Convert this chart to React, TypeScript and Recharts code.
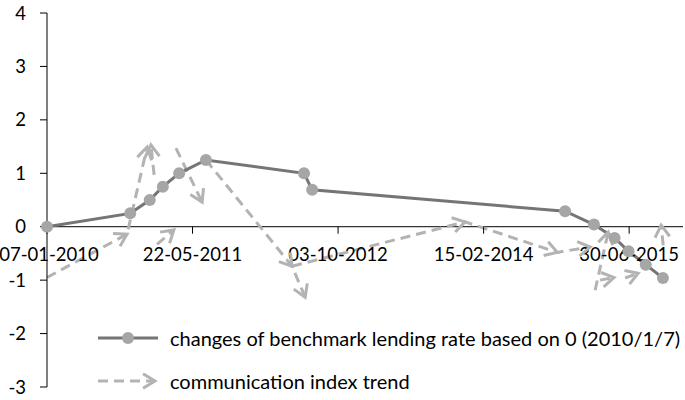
import React from "react";
import { ComposedChart, Line, XAxis, YAxis, ReferenceLine, ReferenceDot, Legend } from "recharts";

const FONT = "Lato, 'Noto Sans', sans-serif";
const RATE_COLOR = "#757575";
const DOT_COLOR = "#a6a6a6";
const TREND_COLOR = "#b3b3b3";

// cumulative change of the benchmark lending rate since 2010-01-07
const rateDates = [
  "2010-01-07", "2010-10-20", "2010-12-26", "2011-02-09", "2011-04-06", "2011-07-07", "2012-06-08",
  "2012-07-06", "2014-11-22", "2015-03-01", "2015-05-11", "2015-06-28", "2015-08-26", "2015-10-24",
];
const rateValues = [0, 0.25, 0.5, 0.75, 1, 1.25, 1, 0.69, 0.29, 0.04, -0.21, -0.46, -0.71, -0.96];

// communication index trend, null = break between arrows
const trendDates = [
  "2010-01-07", "2010-10-09", "2010-12-17", "2010-12-17",
  "2011-01-20", "2011-03-19", "2011-03-19",
  "2011-01-10", "2010-12-30", "2010-12-30",
  "2011-03-26", "2011-06-24", "2011-06-24",
  "2011-07-07", "2012-04-28", "2012-06-12", "2012-06-12",
  "2012-04-28", "2013-12-13", "2014-10-26", "2015-02-16", "2015-02-16",
  "2015-03-05", "2015-04-19", "2015-04-19",
  "2015-03-22", "2015-05-09", "2015-05-09",
  "2015-06-16", "2015-07-31", "2015-07-31",
  "2015-10-25", "2015-10-18",
];
const trendValues: (number | null)[] = [
  -0.95, -0.14, 1.49, null,
  -0.33, -0.06, null,
  0.97, 1.53, null,
  1.47, 0.46, null,
  1.25, -0.74, -1.32, null,
  -0.74, 0.09, -0.48, -0.38, null,
  -1.19, -0.1, null,
  -1.0, -0.95, null,
  -0.96, -0.87, null,
  -0.35, 0.03,
];

const tickDates = ["2010-01-07", "2011-05-22", "2012-10-03", "2014-02-15", "2015-06-30"];
const yTicks = [-3, -2, -1, 0, 1, 2, 3, 4];
const xStart = "2010-01-07";
const xEnd = "2016-01-01";

const rateData = rateDates.map((d, i) => ({ t: Date.parse(d), v: rateValues[i] }));
const trendData = trendDates.map((d, i) => ({ t: Date.parse(d), v: trendValues[i] }));

const fmtDate = (d: string) => {
  const [y, m, day] = d.split("-");
  return `${day}-${m}-${y}`;
};

const arrowPath = (x: number, y: number, ang: number) => {
  const len = 14;
  const spread = 0.55;
  const x1 = x - len * Math.cos(ang - spread);
  const y1 = y - len * Math.sin(ang - spread);
  const x2 = x - len * Math.cos(ang + spread);
  const y2 = y - len * Math.sin(ang + spread);
  return `M${x1},${y1}L${x},${y}L${x2},${y2}`;
};

const ArrowHead = (props: any) => {
  const { cx, cy, index, points } = props;
  const prev = points ? points[index - 1] : null;
  if (cy == null || !prev || prev.y == null) return <g key={`a-${index}`} />;
  const ang = Math.atan2(cy - prev.y, cx - prev.x);
  return (
    <path
      key={`a-${index}`}
      d={arrowPath(cx, cy, ang)}
      fill="none"
      stroke={TREND_COLOR}
      strokeWidth={3}
    />
  );
};

// tick mark + label hanging below the zero line; label kept inside the left edge
const XTick = ({ cx, cy, label }: any) => (
  <g>
    <line x1={cx} x2={cx} y1={cy} y2={cy + 7} stroke="#000" strokeWidth={1} />
    <text
      x={Math.max(cx, 49)}
      y={cy + 27}
      textAnchor="middle"
      dominantBaseline="central"
      fill="#000"
      fontSize={18.5}
      fontFamily={FONT}
    >
      {label}
    </text>
  </g>
);

const LegendBox = () => (
  <div style={{ fontFamily: FONT, fontSize: 20, color: "#000", lineHeight: "22px" }}>
    <div style={{ display: "flex", alignItems: "center", height: 43 }}>
      <svg width={64} height={16}>
        <line x1={2} x2={62} y1={8} y2={8} stroke={RATE_COLOR} strokeWidth={3} />
        <circle cx={32} cy={8} r={6} fill={DOT_COLOR} />
      </svg>
      <span style={{ marginLeft: 10, whiteSpace: "nowrap" }}>changes of benchmark lending rate based on 0 (2010/1/7)</span>
    </div>
    <div style={{ display: "flex", alignItems: "center", height: 43 }}>
      <svg width={64} height={20}>
        <line x1={2} x2={58} y1={10} y2={10} stroke={TREND_COLOR} strokeWidth={3} strokeDasharray="10 6" />
        <path d={arrowPath(59, 10, 0)} fill="none" stroke={TREND_COLOR} strokeWidth={3} />
      </svg>
      <span style={{ marginLeft: 10, whiteSpace: "nowrap" }}>communication index trend</span>
    </div>
  </div>
);

export default function App() {
  return (
    <div style={{ position: "absolute", left: 0, top: 0 }}>
      <ComposedChart width={685} height={400} margin={{ top: 13, right: 2, bottom: 13, left: 0 }}>
        <XAxis
          dataKey="t"
          type="number"
          domain={[Date.parse(xStart), Date.parse(xEnd)]}
          hide
        />
        <YAxis
          type="number"
          domain={[-3, 4]}
          ticks={yTicks}
          interval={0}
          width={47}
          axisLine={{ stroke: "#000" }}
          tickLine={{ stroke: "#000" }}
          tickSize={7}
          tickMargin={14}
          tick={{ fill: "#000", fontSize: 18.5, fontFamily: FONT }}
        />
        <ReferenceLine y={0} stroke="#000" strokeWidth={1} />
        {tickDates.map((d) => (
          <ReferenceDot
            key={d}
            x={Date.parse(d)}
            y={0}
            r={0}
            ifOverflow="visible"
            shape={(p: any) => <XTick {...p} label={fmtDate(d)} />}
          />
        ))}
        <Line
          data={trendData}
          dataKey="v"
          type="linear"
          stroke={TREND_COLOR}
          strokeWidth={3}
          strokeDasharray="10 6"
          connectNulls={false}
          dot={ArrowHead}
          activeDot={false}
          isAnimationActive={false}
        />
        <Line
          data={rateData}
          dataKey="v"
          type="linear"
          stroke={RATE_COLOR}
          strokeWidth={3}
          dot={{ r: 6, fill: DOT_COLOR, stroke: "none" }}
          activeDot={false}
          isAnimationActive={false}
        />
        <Legend
          layout="horizontal"
          verticalAlign="middle"
          align="center"
          content={LegendBox}
          wrapperStyle={{ left: 96, top: 316, width: 589 }}
        />
      </ComposedChart>
    </div>
  );
}
